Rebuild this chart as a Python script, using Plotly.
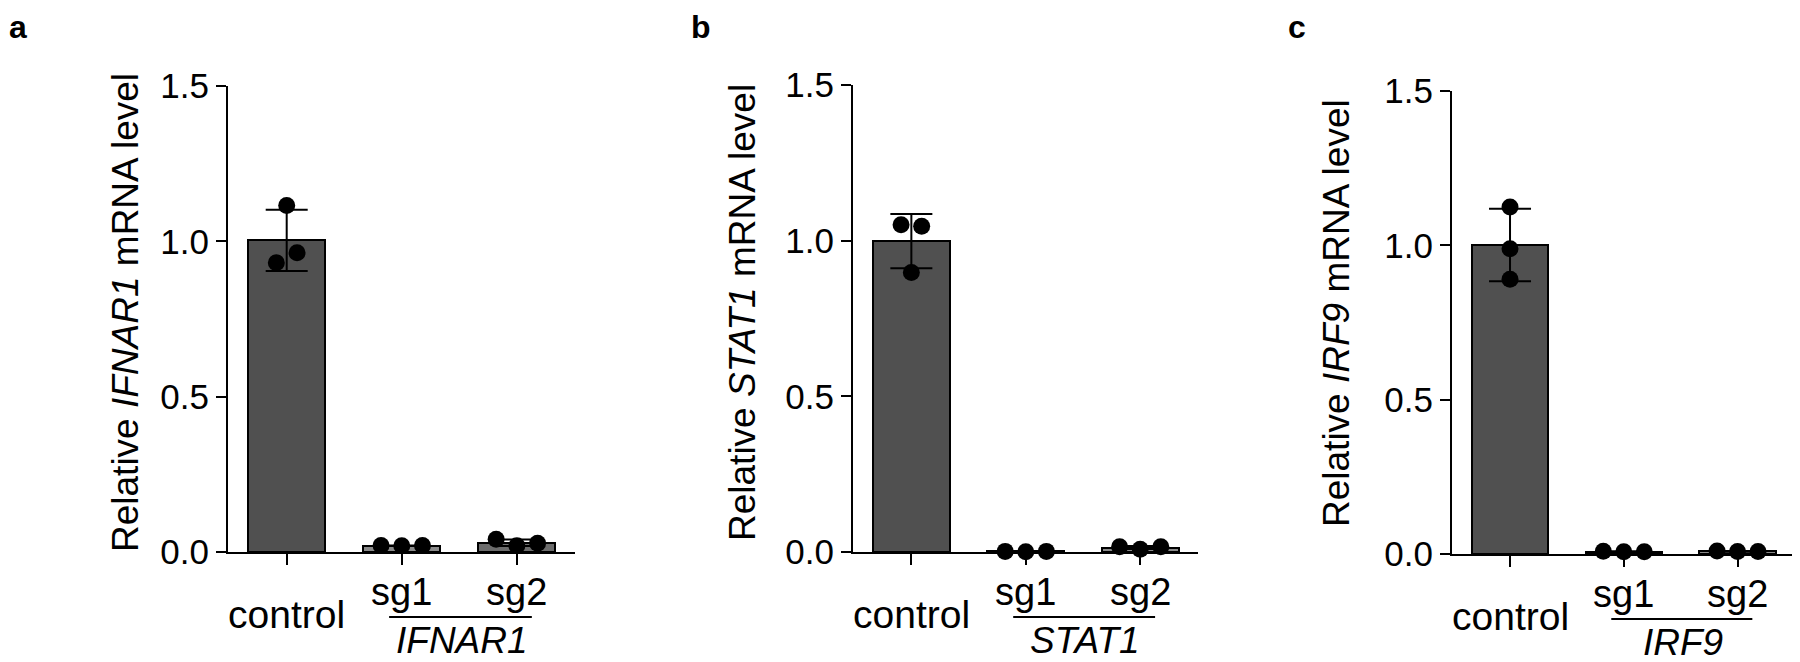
import numpy as np
import plotly.graph_objects as go

# ---------------- data ----------------
categories = ["control", "sg1", "sg2"]
genes = ["IFNAR1", "STAT1", "IRF9"]
panel_letters = ["a", "b", "c"]

ifnar1_control = [1.115, 0.963, 0.931]
ifnar1_sg1 = [0.021, 0.020, 0.021]
ifnar1_sg2 = [0.041, 0.020, 0.028]

stat1_control = [1.051, 1.046, 0.898]
stat1_sg1 = [0.002, 0.001, 0.002]
stat1_sg2 = [0.017, 0.009, 0.017]

irf9_control = [1.124, 0.989, 0.890]
irf9_sg1 = [0.009, 0.007, 0.007]
irf9_sg2 = [0.010, 0.008, 0.008]

y_ticks = [0.0, 0.5, 1.0, 1.5]

panels_data = [
    [ifnar1_control, ifnar1_sg1, ifnar1_sg2],
    [stat1_control, stat1_sg1, stat1_sg2],
    [irf9_control, irf9_sg1, irf9_sg2],
]

# ---------------- styling / layout ----------------
W, H = 1800, 662
OFF = 8  # page body margin of the html page (screen px = figure px + OFF)
FONT = "Arial, Liberation Sans, Helvetica, sans-serif"
bar_colors = [
    ["#505050", "#8a8a8a", "#6c6c6c"],
    ["#505050", "#8a8a8a", "#8a8a8a"],
    ["#505050", "#8a8a8a", "#8a8a8a"],
]
# horizontal spread of replicate dots (category units), per panel/category
dot_spread = [
    [[0.0, 0.09, -0.09], [-0.18, 0.0, 0.18], [-0.18, 0.0, 0.18]],
    [[-0.09, 0.09, 0.0], [-0.18, 0.0, 0.18], [-0.18, 0.0, 0.18]],
    [[0.0, 0.0, 0.0], [-0.18, 0.0, 0.18], [-0.18, 0.0, 0.18]],
]
# plot area in screen pixels: (left, right, top, bottom)
areas = [
    (228, 575, 86, 552),
    (853, 1198, 85, 552),
    (1452, 1795, 91, 554),
]
title_x_px = [125, 742, 1336]
letter_x_px = [9, 690, 1287]
xrange = [-0.51, 2.505]


def fx(px):
    return (px - OFF) / W


def fy(py):
    return (H - (py - OFF)) / H


fig = go.Figure()
annotations = []
shapes = []

for p in range(3):
    xa = "x" if p == 0 else f"x{p+1}"
    ya = "y" if p == 0 else f"y{p+1}"
    data = panels_data[p]
    means = [float(np.mean(v)) for v in data]
    sds = [float(np.std(v, ddof=1)) for v in data]
    xs = list(range(len(categories)))

    fig.add_trace(go.Bar(
        x=xs, y=means, width=0.67,
        marker=dict(color=bar_colors[p], line=dict(color="black", width=2)),
        error_y=dict(type="data", array=sds, visible=True, color="black",
                     thickness=2, width=21),
        xaxis=xa, yaxis=ya, cliponaxis=False, hoverinfo="skip",
    ))
    px_, py_ = [], []
    for i, vals in enumerate(data):
        for j, v in enumerate(vals):
            px_.append(i + dot_spread[p][i][j])
            py_.append(v)
    fig.add_trace(go.Scatter(
        x=px_, y=py_, mode="markers",
        marker=dict(color="black", size=17),
        xaxis=xa, yaxis=ya, cliponaxis=False, hoverinfo="skip",
    ))

    l, r, t, b = areas[p]
    xdom = [fx(l), fx(r)]
    ydom = [fy(b), fy(t)]
    plot_h = b - t
    axis_common = dict(showline=True, linecolor="black", linewidth=2,
                       ticks="outside", tickwidth=2, tickcolor="black",
                       showgrid=False, zeroline=False, automargin=False)
    fig.update_layout(**{
        ("xaxis" if p == 0 else f"xaxis{p+1}"): dict(
            domain=xdom, range=xrange, tickvals=xs, showticklabels=False,
            ticklen=11, anchor=ya, fixedrange=True, **axis_common),
        ("yaxis" if p == 0 else f"yaxis{p+1}"): dict(
            domain=ydom, range=[0, 1.5], tickvals=y_ticks, tickformat=".1f",
            ticklen=10, anchor=xa, fixedrange=True,
            tickfont=dict(family=FONT, size=35, color="black"), **axis_common),
    })

    # category labels
    annotations.append(dict(x=0, y=0, xref=xa, yref=ya, text=categories[0],
                            showarrow=False, yanchor="middle", yshift=-62,
                            font=dict(family=FONT, size=39, color="black")))
    for i in (1, 2):
        annotations.append(dict(x=i, y=0, xref=xa, yref=ya, text=categories[i],
                                showarrow=False, yanchor="middle", yshift=-40,
                                font=dict(family=FONT, size=38, color="black")))
    annotations.append(dict(x=1.52, y=0, xref=xa, yref=ya,
                            text=f"<i>{genes[p]}</i>",
                            showarrow=False, yanchor="middle", yshift=-88,
                            borderpad=0,
                            font=dict(family=FONT, size=37, color="black")))
    # line under sg labels
    x0 = (0.89 - xrange[0]) / (xrange[1] - xrange[0])
    x1 = (2.13 - xrange[0]) / (xrange[1] - xrange[0])
    yl = -65 / plot_h
    shapes.append(dict(type="line", xref=f"{xa} domain", yref=f"{ya} domain",
                       x0=x0, x1=x1, y0=yl, y1=yl,
                       line=dict(color="black", width=2)))
    # y-axis title
    annotations.append(dict(x=fx(title_x_px[p]), y=fy(313),
                            xref="paper", yref="paper",
                            text=f"Relative <i>{genes[p]}</i> mRNA level",
                            textangle=-90, showarrow=False,
                            xanchor="center", yanchor="middle",
                            font=dict(family=FONT, size=37, color="black")))
    # panel letter
    annotations.append(dict(x=fx(letter_x_px[p] if p else OFF), y=1.0,
                            xref="paper", yref="paper",
                            text=f"<b>{panel_letters[p]}</b>",
                            showarrow=False, xanchor="left", yanchor="top",
                            borderpad=0,
                            font=dict(family=FONT, size=32, color="black")))

fig.update_layout(
    width=W, height=H, margin=dict(l=0, r=0, t=0, b=0, autoexpand=False),
    paper_bgcolor="white", plot_bgcolor="white", showlegend=False,
    annotations=annotations, shapes=shapes, bargap=0,
)

fig.write_html("out.html")
